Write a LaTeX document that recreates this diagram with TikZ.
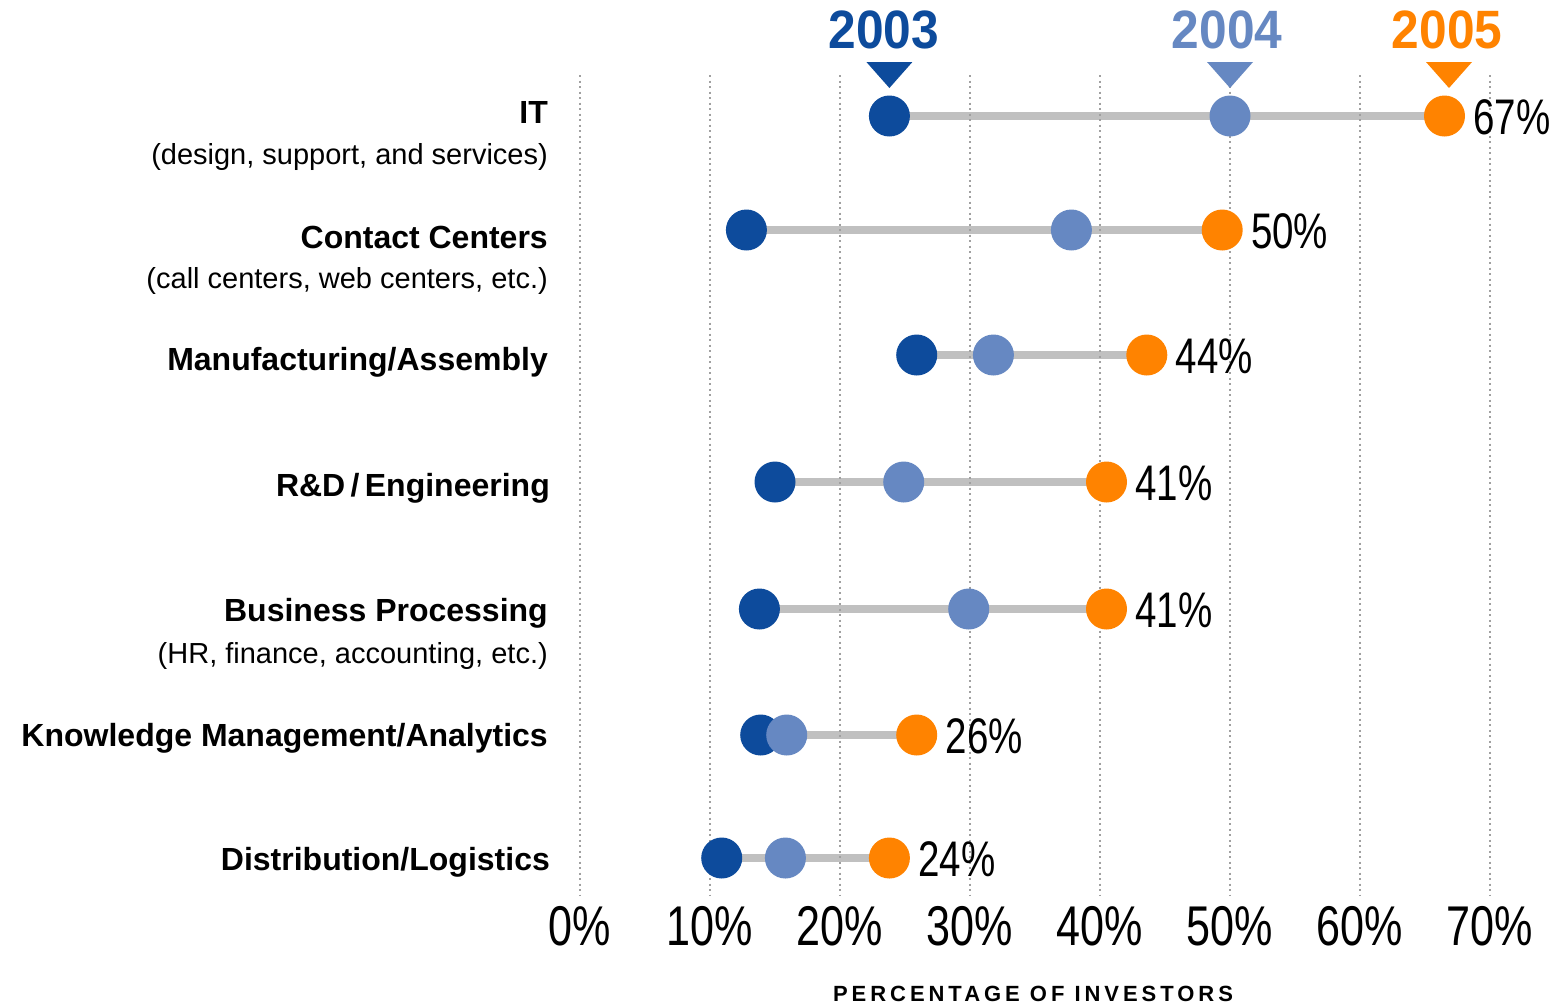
\documentclass[tikz,border=0pt]{standalone}
\usepackage{fontspec}
\setmainfont{Liberation Sans}
\newfontfamily\condfont[FakeStretch=0.77]{Liberation Sans}
\newfontfamily\yearfont[FakeStretch=0.92]{Liberation Sans}
\newfontfamily\spacedfont[LetterSpace=18]{Liberation Sans}
\definecolor{cA}{HTML}{0D4B9C}
\definecolor{cB}{HTML}{6688C2}
\definecolor{cC}{HTML}{FF8300}
\definecolor{barc}{HTML}{C0C0C0}
\definecolor{gridc}{HTML}{A0A0A0}
\pgfdeclarelayer{bg}
\pgfsetlayers{bg,main}
\tikzset{
  dot/.style={circle, minimum size=41pt, inner sep=0pt, draw=none},
  barline/.style={barc, line width=8pt},
  gridline/.style={gridc, line width=2pt, dash pattern=on 2pt off 3.5pt},
  catlabel/.style={font=\fontsize{32}{36}\selectfont\bfseries, anchor=base east, inner sep=0pt},
  sublabel/.style={font=\fontsize{29}{34}\selectfont, anchor=base east, inner sep=0pt},
  pctlabel/.style={font=\condfont\fontsize{50}{56}\selectfont, anchor=base west, inner sep=0pt},
  axislabel/.style={font=\condfont\fontsize{56}{60}\selectfont, anchor=base, inner sep=0pt},
  yearlabel/.style={font=\yearfont\fontsize{54}{58}\selectfont\bfseries, anchor=base, inner sep=0pt},
}
\begin{document}
\begin{tikzpicture}[x=1pt,y=-1pt]
\begin{pgfonlayer}{bg}
\useasboundingbox[fill=white] (0,0) rectangle (1563,1005);
\end{pgfonlayer}

% dots and values
\foreach \i/\y/\a/\b/\c/\pct in {1/116/23.8/50/66.5/67, 2/230/12.8/37.8/49.4/50, 3/355/25.9/31.8/43.6/44, 4/482/15/24.9/40.5/41, 5/609/13.8/29.9/40.5/41, 6/735/13.9/15.9/25.9/26, 7/858/10.9/15.8/23.8/24}{
  \node[dot, fill=cA] (da\i) at ({580+13*\a},\y) {};
  \node[dot, fill=cB] (db\i) at ({580+13*\b},\y) {};
  \node[dot, fill=cC] (dc\i) at ({580+13*\c},\y) {};
  \node[pctlabel] (p\i) at ([xshift=8pt, yshift=-18pt]dc\i.east) {\pct\%};
  \begin{pgfonlayer}{bg}
    \draw[barline] (da\i.center) -- (dc\i.center);
  \end{pgfonlayer}
}

% grid and axis labels
\foreach \k in {0,...,7}{
  \coordinate (gt\k) at ({580+130*\k},75);
  \coordinate (gb\k) at ({580+130*\k},896);
  \begin{pgfonlayer}{bg}
    \draw[gridline] (gt\k) -- (gb\k);
  \end{pgfonlayer}
  \node[axislabel] (ax\k) at ({580+130*\k},945) {\the\numexpr\k*10\relax\%};
}

% years with markers
\node[yearlabel, text=cA] (yA) at (884,48) {2003};
\node[yearlabel, text=cB] (yB) at (1227,48) {2004};
\node[yearlabel, text=cC] (yC) at (1447,48) {2005};
\fill[cA] ({889.4-23},62) -- ({889.4+23},62) -- (889.4,88) -- cycle;
\fill[cB] ({1230-23},62) -- ({1230+23},62) -- (1230,88) -- cycle;
\fill[cC] ({1449-23},62) -- ({1449+23},62) -- (1449,88) -- cycle;

% category labels
\node[catlabel] (l1) at (548,123.5) {IT};
\node[sublabel] (s1) at (548,164) {(design, support, and services)};
\node[catlabel] (l2) at (548,248) {Contact Centers};
\node[sublabel] (s2) at (548,288) {(call centers, web centers, etc.)};
\node[catlabel] (l3) at (548,370) {Manufacturing/Assembly};
\node[catlabel] (l4) at (550,496) {R\&D\,/\,Engineering};
\node[catlabel] (l5) at (548,621) {Business Processing};
\node[sublabel] (s5) at (548,663) {(HR, finance, accounting, etc.)};
\node[catlabel] (l6) at (548,746) {Knowledge Management/Analytics};
\node[catlabel] (l7) at (550,870) {Distribution/Logistics};

% axis title
\node[font=\spacedfont\fontsize{22}{24}\selectfont\bfseries, anchor=base, inner sep=0pt] (title) at (1033,1001) {PERCENTAGE OF INVESTORS};
\end{tikzpicture}
\end{document}
